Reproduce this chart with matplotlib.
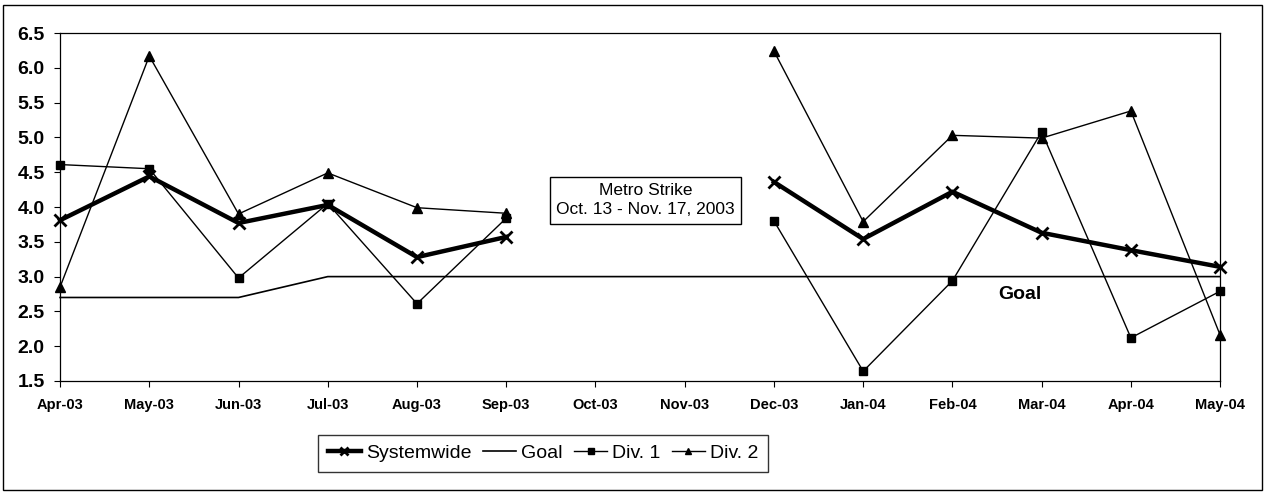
import numpy as np
import matplotlib
matplotlib.use("Agg")
import matplotlib.pyplot as plt
from matplotlib.patches import Rectangle

months = ['Apr-03', 'May-03', 'Jun-03', 'Jul-03', 'Aug-03', 'Sep-03', 'Oct-03',
          'Nov-03', 'Dec-03', 'Jan-04', 'Feb-04', 'Mar-04', 'Apr-04', 'May-04']
nan = np.nan
systemwide = [3.81, 4.44, 3.77, 4.03, 3.28, 3.57, nan, nan, 4.36, 3.54, 4.22, 3.63, 3.38, 3.14]
goal = [2.70, 2.70, 2.70, 3.00, 3.00, 3.00, 3.00, 3.00, 3.00, 3.00, 3.00, 3.00, 3.00, 3.00]
div1 = [4.61, 4.55, 2.98, 4.05, 2.61, 3.84, nan, nan, 3.80, 1.64, 2.94, 5.08, 2.12, 2.79]
div2 = [2.85, 6.17, 3.90, 4.49, 3.99, 3.91, nan, nan, 6.24, 3.79, 5.03, 4.99, 5.38, 2.16]

plt.rcParams['font.family'] = ['Liberation Sans', 'DejaVu Sans']

fig = plt.figure(figsize=(12.67, 4.93), dpi=100)
ax = fig.add_axes([0.0474, 0.2272, 0.9156, 0.7058])
x = np.arange(len(months))

ax.plot(x, systemwide, color='black', lw=3.2, marker='x', ms=8, mew=2,
        label='Systemwide', clip_on=False, zorder=5)
ax.plot(x, goal, color='black', lw=1.2, label='Goal', clip_on=False, zorder=3)
ax.plot(x, div1, color='black', lw=1.0, marker='s', ms=6,
        label='Div. 1', clip_on=False, zorder=4)
ax.plot(x, div2, color='black', lw=1.0, marker='^', ms=6.5,
        label='Div. 2', clip_on=False, zorder=4)

ax.set_xlim(0, len(months) - 1)
ax.set_ylim(1.5, 6.5)
ax.set_yticks(np.arange(1.5, 6.51, 0.5))
ax.set_yticklabels([f'{v:.1f}' for v in np.arange(1.5, 6.51, 0.5)],
                   fontsize=14, fontweight='bold')
ax.set_xticks(x)
ax.set_xticklabels(months, fontsize=10.5, fontweight='bold')
ax.tick_params(axis='both', direction='out', length=4, width=0.8, colors='black')
ax.tick_params(axis='x', pad=8)
ax.tick_params(axis='y', pad=7)
for s in ax.spines.values():
    s.set_linewidth(0.9)

ax.text(6.56, 4.1, 'Metro Strike\nOct. 13 - Nov. 17, 2003', ha='center', va='center',
        fontsize=12.5, linespacing=1.4,
        bbox=dict(boxstyle='square,pad=0.35', fc='white', ec='black', lw=1))
ax.text(10.76, 2.74, 'Goal', ha='center', va='center', fontsize=14, fontweight='bold')

leg = fig.legend(loc='center', bbox_to_anchor=(0.4286, 0.081), ncol=4,
                 fontsize=14, frameon=True, fancybox=False, edgecolor='black',
                 handlelength=1.7, handletextpad=0.25, columnspacing=0.6,
                 borderpad=0.5, markerscale=0.7)
leg.get_frame().set_linewidth(1)

fig.patches.append(Rectangle((0.0024, 0.006), 0.9937, 0.984, transform=fig.transFigure,
                             fill=False, ec='black', lw=1))

fig.savefig('out.png', dpi=100)
